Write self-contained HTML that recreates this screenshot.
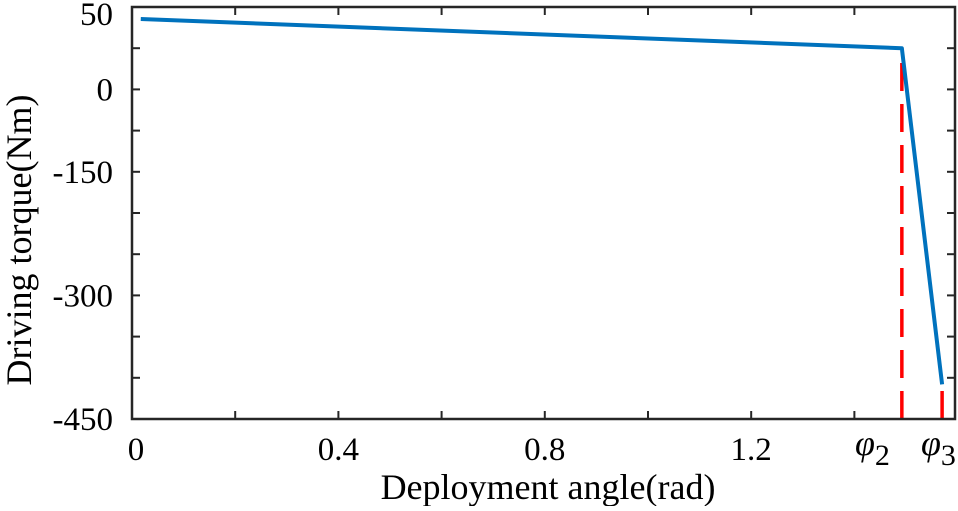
<!DOCTYPE html>
<html><head><meta charset="utf-8"><style>
html,body{margin:0;padding:0;background:#fff;}
svg text{font-family:"Liberation Serif",serif;fill:#000;}
</style></head><body>
<svg id="chart" width="958" height="506" viewBox="0 0 958 506" xmlns="http://www.w3.org/2000/svg"></svg>
<script>
const seriesX = [0.017, 1.492, 1.570];
const seriesY = [42.7, 25, -408];
const markerX = [1.492, 1.570];
const xTickValues = [0, 0.2, 0.4, 0.6, 0.8, 1.0, 1.2, 1.4];
const xTickLabels = ["0", "0.4", "0.8", "1.2"];
const xTickLabelValues = [0, 0.4, 0.8, 1.2];
const yLabelValues = [50, 0, -150, -300, -450];
const yLabelFracs = [0, 0.2, 0.4, 0.7, 1.0];
const yTickCount = 10;

const L=132, R=955, T=7, B=419;
const xMax = 1.595;
function sx(v){return L + v/xMax*(R-L);}
function sy(v){
  for(let i=0;i<yLabelValues.length-1;i++){
    const a=yLabelValues[i], b=yLabelValues[i+1];
    if(v<=a && v>=b){const f=yLabelFracs[i]+(a-v)/(a-b)*(yLabelFracs[i+1]-yLabelFracs[i]);return T+f*(B-T);}
  }
  if(v>yLabelValues[0]) return T;
  return B;
}
const svg=document.getElementById('chart');
const NS="http://www.w3.org/2000/svg";
function mk(tag,attrs){const e=document.createElementNS(NS,tag);for(const k in attrs)e.setAttribute(k,attrs[k]);svg.appendChild(e);return e;}

xTickValues.forEach(v=>{
  const x=sx(v);
  let t=mk('line',{x1:x,x2:x,y1:B,y2:B-8,stroke:'#262626','stroke-width':2});
  
  
  t=mk('line',{x1:x,x2:x,y1:T,y2:T+8,stroke:'#262626','stroke-width':2});
  
  
});
for(let i=0;i<=yTickCount;i++){
  const y=T+i/yTickCount*(B-T);
  let t=mk('line',{x1:L,x2:L+8,y1:y,y2:y,stroke:'#262626','stroke-width':2});
  
  
  t=mk('line',{x1:R,x2:R-8,y1:y,y2:y,stroke:'#262626','stroke-width':2});
  
  
}
xTickLabelValues.forEach((v,i)=>{
  const t=mk('text',{x:sx(v)+(v===0?4:0),y:460,'font-size':33,'text-anchor':'middle'});
  t.textContent=xTickLabels[i];
  
  
});
yLabelValues.forEach(v=>{
  const t=mk('text',{x:113,y:Math.max(sy(v)+11,25),'font-size':33,'text-anchor':'end'});
  t.textContent=String(v);
  
  
});
[["φ","2",855],["φ","3",921]].forEach(p=>{
  const t=mk('text',{x:p[2],y:455,'font-size':36,'font-style':'italic'});
  t.textContent=p[0];
  const s=document.createElementNS(NS,'tspan');s.setAttribute('dy','10');s.setAttribute('font-size','30');s.setAttribute('font-style','normal');s.textContent=p[1];t.appendChild(s);
  
  
});
markerX.forEach((v,i)=>{
  const yTop = sy(seriesY[i+1]);
  const l=mk('line',{x1:sx(v),x2:sx(v),y1:B,y2:yTop,stroke:'#ff0000','stroke-width':3.5,'stroke-dasharray':'28,13'});
  
  
});
const pts=seriesX.map((x,i)=>sx(x)+','+sy(seriesY[i])).join(' ');
const pl=mk('polyline',{points:pts,fill:'none',stroke:'#0072bd','stroke-width':4,'stroke-linejoin':'round'});


const fr=mk('rect',{x:L,y:T,width:R-L,height:B-T,fill:'none',stroke:'#262626','stroke-width':2.5});


let xt=mk('text',{x:548,y:499,'font-size':36,'text-anchor':'middle'});
xt.textContent='Deployment angle(rad)';


let yt=mk('text',{x:0,y:0,'font-size':36,'text-anchor':'middle',transform:'translate(31,240) rotate(-90)'});
yt.textContent='Driving torque(Nm)';


</script>
</body></html>
